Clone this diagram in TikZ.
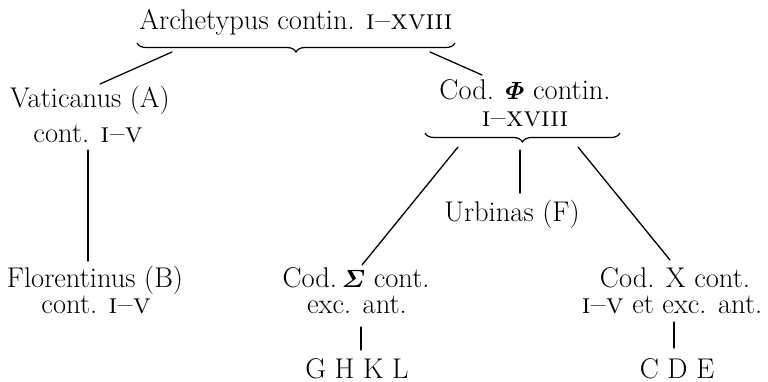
\documentclass[tikz,border=0pt]{standalone}
\usepackage{amsmath}
\usepackage{bm}
\usepackage{fontspec}
\usetikzlibrary{decorations.pathreplacing}

\tikzset{
  txt/.style={anchor=base, inner sep=0pt, font=\fontsize{28.5}{34}\selectfont},
  link/.style={line width=1.3pt, line cap=round},
  curly/.style={line width=1.2pt, decorate, decoration={brace, mirror, amplitude=9pt}}
}

\begin{document}
\begin{tikzpicture}[x=1pt, y=-1pt]
\useasboundingbox (0,0) rectangle (768,382);

% archetype and its brace
\node[txt] (arch) at (296,30) {Archetypus contin. \textsc{i--xviii}};
\draw[curly] (137,43) coordinate (archL) -- (455,43) coordinate (archR);

% left branch
\node[txt] (vat1) at (90,108) {Vaticanus (A)};
\node[txt] (vat2) at (88,143) {cont. \textsc{i--v}};
\node[txt] (flo1) at (95,287) {Florentinus (B)};
\node[txt] (flo2) at (96,313) {cont. \textsc{i--v}};

% right branch: Cod. Phi
\node[txt] (phi1) at (525,100) {Cod. $\bm{\varPhi}$ contin.};
\node[txt] (phi2) at (525,127) {\textsc{i--xviii}};
\draw[curly] (425,133) coordinate (phiL) -- (620,133) coordinate (phiR);

\node[txt] (urb) at (512,222) {Urbinas (F)};

\node[txt] (sig1) at (356,287) {Cod.\,$\bm{\varSigma}$ cont.};
\node[txt] (sig2) at (357,313) {exc. ant.};
\node[txt] (ghkl) at (357,378) {G H K L};

\node[txt] (chi1) at (675,287) {Cod. X cont.};
\node[txt] (chi2) at (672,313) {\textsc{i--v} et exc. ant.};
\node[txt] (cde) at (677,378) {C D E};

% connector end points
\coordinate (a1) at (172,52);  \coordinate (a2) at (100,84);
\coordinate (b1) at (430,52);  \coordinate (b2) at (482,75);
\coordinate (v1) at (88,150);  \coordinate (v2) at (88,261);
\coordinate (p1) at (458,147); \coordinate (p2) at (362,265);
\coordinate (m1) at (520,150); \coordinate (m2) at (520,193);
\coordinate (r1) at (578,147); \coordinate (r2) at (670,260);
\coordinate (s1) at (361,327); \coordinate (s2) at (361,350);
\coordinate (x1) at (674,322); \coordinate (x2) at (674,348);

\draw[link] (a1) -- (a2);
\draw[link] (b1) -- (b2);
\draw[link] (v1) -- (v2);
\draw[link] (p1) -- (p2);
\draw[link] (m1) -- (m2);
\draw[link] (r1) -- (r2);
\draw[link] (s1) -- (s2);
\draw[link] (x1) -- (x2);
\end{tikzpicture}
\end{document}
